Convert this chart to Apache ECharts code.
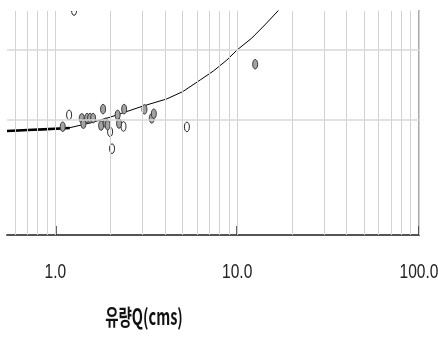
<!DOCTYPE html>
<html>
<head>
<meta charset="utf-8">
<script src="https://cdn.jsdelivr.net/npm/echarts@6/dist/echarts.min.js"></script>
<style>
  html, body { margin: 0; padding: 0; background: #fff; }
  #chart { width: 438px; height: 341px; }
</style>
</head>
<body>
<div id="chart"></div>
<script>
// Observed samples, shaded markers: discharge Q (cms) and load
const grayFlow = [1.098, 1.397, 1.426, 1.495, 1.552, 1.613, 1.785, 1.83, 1.89, 1.938, 2.2, 2.24, 2.39, 3.09, 3.39, 3.48, 12.56];
const grayLoad = [468, 504, 481, 505, 505, 505, 473, 544, 485, 475, 519, 482, 544, 543, 504, 524, 738];
// Observed samples, open markers
const whiteFlow = [1.19, 1.267, 2.0, 2.05, 2.37, 5.29];
const whiteLoad = [519, 970, 446, 373, 469, 467];
// Rating curve
const curveFlow = [0.542, 1.0, 1.205, 1.55, 2.0, 3.0, 4.1, 5.03, 6.26, 7.41, 8.77, 10, 12, 14.2, 16.75, 19.5];
const curveLoad = [449, 456, 464, 484, 509, 556, 588, 620, 670, 709, 756, 800, 850, 908, 968, 1024];
// Low-flow segment
const lowFlow = [0.542, 1.2];
const lowLoad = [449, 462];
// Axis ticks and grid
const xTickValues = [1, 10, 100];
const xTickLabels = ['1.0', '10.0', '100.0'];
const xAxisTitle = '유량Q(cms)';
const xGridValues = [0.6, 0.7, 0.8, 0.9, 1, 2, 3, 4, 5, 6, 7, 8, 9, 10, 20, 30, 40, 50, 60, 70, 80, 90, 100];
const yGridValues = [500, 800];

const pairs = (xs, ys) => xs.map((x, i) => [x, ys[i]]);

function ellipseRenderer(fill, stroke) {
  return function (params, api) {
    const p = api.coord([api.value(0), api.value(1)]);
    return {
      type: 'ellipse',
      shape: { cx: p[0], cy: p[1], rx: 2.5, ry: 4.8 },
      style: { fill: fill, stroke: stroke, lineWidth: 1 }
    };
  };
}

const chart = echarts.init(document.getElementById('chart'), null, { renderer: 'canvas' });

chart.setOption({
  animation: false,
  backgroundColor: '#fff',
  grid: { left: 7, right: 19, top: 11, bottom: 106, containLabel: false, outerBoundsMode: 'none' },
  graphic: [{
    type: 'text',
    x: 144,
    y: 317,
    scaleX: 0.66,
    silent: true,
    style: {
      text: xAxisTitle,
      align: 'center',
      verticalAlign: 'middle',
      font: 'bold 22px "Noto Sans CJK KR"',
      fill: '#111'
    }
  }],
  xAxis: {
    type: 'log',
    logBase: 10,
    min: 0.542,
    max: 100,
    axisLine: { show: true, onZero: false, lineStyle: { color: '#555', width: 2 } },
    axisTick: { show: true, inside: true, length: 9, customValues: xTickValues, lineStyle: { color: '#333', width: 1.5 } },
    axisLabel: { show: false },
    splitLine: { show: false },
    minorTick: { show: false },
    minorSplitLine: { show: false }
  },
  yAxis: {
    type: 'value',
    position: 'right',
    min: 0,
    max: 968,
    axisLine: { show: true, lineStyle: { color: '#aaa', width: 2 } },
    axisTick: { show: false },
    axisLabel: { show: false },
    splitLine: { show: false }
  },
  series: [
    {
      // grid lines
      type: 'line',
      data: [],
      z: 1,
      silent: true,
      markLine: {
        silent: true,
        symbol: 'none',
        label: { show: false },
        lineStyle: { color: '#d2d2d2', width: 1, type: 'solid' },
        data: xGridValues.map(v => ({ xAxis: v }))
          .concat(yGridValues.map(v => ({ yAxis: v, lineStyle: { color: '#d8d8d8', width: 1.5, type: 'solid' } })))
      }
    },
    {
      type: 'line',
      data: pairs(lowFlow, lowLoad),
      showSymbol: false,
      lineStyle: { color: '#000', width: 2.5 },
      z: 3
    },
    {
      type: 'line',
      data: pairs(curveFlow, curveLoad),
      showSymbol: false,
      clip: true,
      lineStyle: { color: '#000', width: 1 },
      z: 3
    },
    {
      type: 'custom',
      data: pairs(whiteFlow, whiteLoad),
      clip: true,
      encode: { x: 0, y: 1 },
      renderItem: ellipseRenderer('#fff', '#222'),
      z: 4
    },
    {
      type: 'custom',
      data: pairs(grayFlow, grayLoad),
      clip: true,
      encode: { x: 0, y: 1 },
      renderItem: ellipseRenderer('#a3a3a3', '#3a3a3a'),
      z: 4
    },
    {
      // x tick labels, placed below the axis at each tick value
      type: 'custom',
      data: xTickValues.map(v => [v, 0]),
      clip: false,
      silent: true,
      encode: { x: 0, y: 1 },
      renderItem: function (params, api) {
        const p = api.coord([api.value(0), 0]);
        return {
          type: 'text',
          x: p[0],
          y: p[1] + 37,
          scaleX: 0.74,
          style: {
            text: xTickLabels[params.dataIndex],
            align: 'center',
            verticalAlign: 'middle',
            font: '21px "Liberation Sans"',
            fill: '#222'
          }
        };
      },
      z: 5
    }
  ]
});
</script>
</body>
</html>
